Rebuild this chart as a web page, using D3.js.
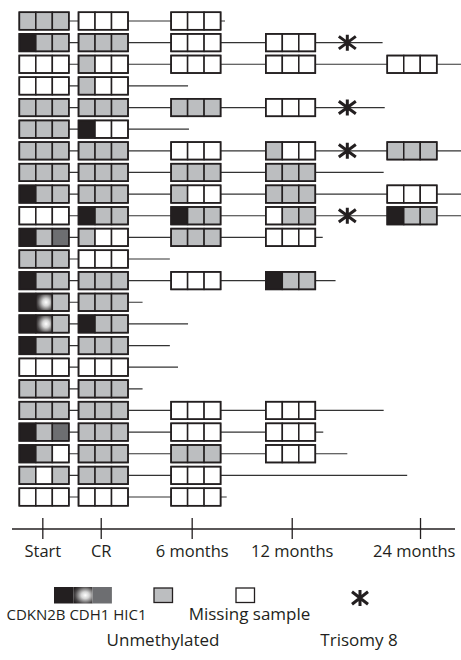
<!DOCTYPE html>
<html>
<head>
<meta charset="utf-8">
<script src="https://cdn.jsdelivr.net/npm/d3@7"></script>
<style>
  body { margin: 0; background: #fff; }
  svg { display: block; }
  text { font-family: "Open Sans", "Noto Sans", sans-serif; fill: #231f20; }
</style>
</head>
<body>
<svg id="chart" width="461" height="660"></svg>
<script>
// Visits on the timeline and the month each one sits at
const visits = ["Start", "CR", "6 months", "12 months", "24 months"];
const tickMonths = [0, 1, 6, 12, 24];
// Month at which the samples of each visit were drawn
const sampleMonths = [0.03, 1.14, 6.25, 11.93, 23.25];

// Genes in each sample box, left to right
const genes = ["CDKN2B", "CDH1", "HIC1"];

// One entry per patient. Codes per gene: M = methylated, U = unmethylated, - = missing sample; null = no visit
const patients = ["P1","P2","P3","P4","P5","P6","P7","P8","P9","P10","P11","P12",
                  "P13","P14","P15","P16","P17","P18","P19","P20","P21","P22","P23"];

const startStatus = ["UUU","MUU","---","---","UUU","UUU","UUU","UUU","MUU","---","MUM","UUU",
                     "MUU","MMU","MMU","MUU","---","UUU","UUU","MUM","MU-","U-U","---"];
const crStatus    = ["---","UUU","U--","U--","UUU","M--","UUU","UUU","UUU","MUU","U--","---",
                     "UUU","UUU","MUU","UUU","---","UUU","UUU","UUU","UUU","UUU","---"];
const m6Status    = ["---","---","---",null,"UUU",null,"---","UUU","U--","MUU","UUU",null,
                     "---",null,null,null,null,null,"---","---","UUU","---","---"];
const m12Status   = [null,"---","---",null,"---",null,"U--","UUU","UUU","-UU","---",null,
                     "MUU",null,null,null,null,null,"---","---","---",null,null];
const m24Status   = [null,null,"---",null,null,null,"UUU",null,"---","MUU",null,null,
                     null,null,null,null,null,null,null,null,null,null,null];

// Length of follow-up in months
const followUp = [8.0, 20.5, 28, 5.8, 20.7, 5.85, 28, 20.6, 28, 28, 14.9, 4.8,
                  16.1, 3.3, 5.8, 4.8, 5.25, 3.3, 20.6, 14.95, 17.2, 22.8, 8.1];

// Month at which trisomy 8 was detected (null = not detected)
const trisomy8 = [null, 17.2, null, null, 17.2, null, 17.2, null, null, 17.2, null, null,
                  null, null, null, null, null, null, null, null, null, null, null];

const statusByVisit = [startStatus, crStatus, m6Status, m12Status, m24Status];

// ---------------------------------------------------------------
const W = 461, H = 660;
const ink = "#231f20";
const unmethFill = "#bcbec0";
const methFill = [ink, "url(#cdh1Grad)", "#6d6e71"];

const svg = d3.select("#chart");
const defs = svg.append("defs");
const grad = defs.append("radialGradient")
  .attr("id", "cdh1Grad").attr("cx", "0.62").attr("cy", "0.5").attr("r", "0.7");
grad.append("stop").attr("offset", "0").attr("stop-color", "#ffffff");
grad.append("stop").attr("offset", "0.3").attr("stop-color", "#d4d4d4");
grad.append("stop").attr("offset", "0.75").attr("stop-color", "#4a4748");
grad.append("stop").attr("offset", "1").attr("stop-color", ink);

const x = d3.scaleLinear()
  .domain(tickMonths)
  .range([0.0918, 0.2185, 0.4158, 0.6328, 0.9111].map(f => f * W));

const y = d3.scalePoint().domain(patients).range([21, 497]);

const cellW = 16.5, cellH = 17.5;

function cellFill(code, gi) {
  if (code === "M") return methFill[gi];
  if (code === "U") return unmethFill;
  return "#ffffff";
}

// Asterisk marker: vertical stroke plus two diagonals
function asteriskPath(rx, ry) {
  const dx = rx, dy = ry * 0.78;
  return `M0,${-ry}L0,${ry}M${-dx},${-dy}L${dx},${dy}M${-dx},${dy}L${dx},${-dy}`;
}

const rows = svg.append("g").selectAll("g.row")
  .data(patients.map((id, i) => ({ id, i })))
  .join("g").attr("class", "row")
  .attr("transform", d => `translate(0,${y(d.id)})`);

// Follow-up line
rows.append("line")
  .attr("x1", d => x(sampleMonths[0]))
  .attr("x2", d => x(followUp[d.i]))
  .attr("stroke", "#333")
  .attr("stroke-width", 1.2);

// Trisomy 8 markers
rows.filter(d => trisomy8[d.i] != null)
  .append("path")
  .attr("transform", d => `translate(${x(trisomy8[d.i])},0)`)
  .attr("d", asteriskPath(8.5, 8))
  .attr("fill", "none")
  .attr("stroke", ink)
  .attr("stroke-width", 3);

// Sample boxes
rows.each(function (d) {
  const row = d3.select(this);
  statusByVisit.forEach((arr, v) => {
    const code = arr[d.i];
    if (code == null) return;
    const box = row.append("g")
      .attr("transform", `translate(${x(sampleMonths[v]) - 1.5 * cellW},${-cellH / 2})`);
    box.selectAll("rect.cell")
      .data(code.split(""))
      .join("rect").attr("class", "cell")
      .attr("x", (c, gi) => gi * cellW)
      .attr("width", cellW).attr("height", cellH)
      .attr("fill", (c, gi) => cellFill(c, gi))
      .attr("stroke", ink).attr("stroke-width", 1.5);
    box.append("rect")
      .attr("width", 3 * cellW).attr("height", cellH)
      .attr("fill", "none").attr("stroke", ink).attr("stroke-width", 1.6);
  });
});

// Time axis
const axisY = 529;
const axisG = svg.append("g").attr("transform", `translate(0,${axisY})`);
axisG.append("line")
  .attr("x1", 12).attr("x2", W - 6)
  .attr("stroke", ink).attr("stroke-width", 1.3);
axisG.call(d3.axisBottom(x).tickValues(tickMonths).tickFormat((d, i) => visits[i]).tickSize(11));
axisG.select(".domain").remove();
axisG.selectAll(".tick line")
  .attr("y1", -11).attr("y2", 10)
  .attr("stroke", ink).attr("stroke-width", 1.3);
axisG.selectAll(".tick text")
  .attr("y", 28).attr("dy", null)
  .attr("font-size", 16.5)
  .attr("font-family", "\"Open Sans\", sans-serif")
  .attr("fill", ink)
  .each(function (d) {
    // keep the last label inside the drawing area
    const b = this.getBBox();
    const over = x(d) + b.x + b.width - (W - 6);
    if (over > 0) d3.select(this).attr("dx", -over);
  });

// Legend
const legend = svg.append("g");
const lgY = 587, lgH = 16.5;
const lgCellW = 19.3;
legend.selectAll("rect.lg-gene")
  .data(genes)
  .join("rect").attr("class", "lg-gene")
  .attr("x", (g, i) => 54 + i * lgCellW).attr("y", lgY)
  .attr("width", lgCellW).attr("height", lgH)
  .attr("fill", (g, i) => methFill[i]);
legend.append("text")
  .attr("x", 76.5).attr("y", 620)
  .attr("text-anchor", "middle").attr("font-size", 15)
  .text(genes.join(" "));

legend.append("rect")
  .attr("x", 154).attr("y", lgY + 1).attr("width", 18.5).attr("height", 14.5)
  .attr("fill", unmethFill).attr("stroke", ink).attr("stroke-width", 1.3);
legend.append("text")
  .attr("x", 163).attr("y", 646)
  .attr("text-anchor", "middle").attr("font-size", 17)
  .text("Unmethylated");

legend.append("rect")
  .attr("x", 236).attr("y", lgY + 1).attr("width", 18.5).attr("height", 14.5)
  .attr("fill", "#ffffff").attr("stroke", ink).attr("stroke-width", 1.3);
legend.append("text")
  .attr("x", 249.5).attr("y", 620)
  .attr("text-anchor", "middle").attr("font-size", 17)
  .text("Missing sample");

legend.append("path")
  .attr("transform", "translate(360,598)")
  .attr("d", asteriskPath(8, 8))
  .attr("fill", "none").attr("stroke", ink).attr("stroke-width", 3);
legend.append("text")
  .attr("x", 359).attr("y", 646)
  .attr("text-anchor", "middle").attr("font-size", 17)
  .text("Trisomy 8");
</script>
</body>
</html>
